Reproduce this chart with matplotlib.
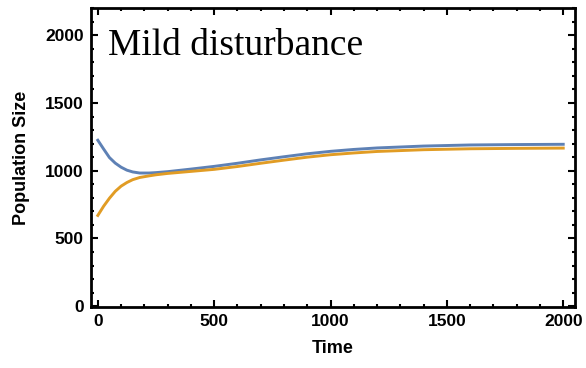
import matplotlib.pyplot as plt
from matplotlib.ticker import MultipleLocator

# values
time = [0, 25, 50, 75, 100, 125, 150, 180, 220, 250, 300, 400, 500, 600, 700,
        800, 900, 1000, 1100, 1200, 1400, 1600, 1800, 2000]
blue = [1225, 1160, 1097, 1056, 1026, 1004, 991, 983, 983, 986, 993, 1012, 1032,
        1055, 1080, 1103, 1125, 1143, 1157, 1168, 1182, 1190, 1193, 1195]
orange = [670, 738, 797, 848, 886, 913, 934, 950, 962, 970, 980, 995, 1010,
          1031, 1055, 1078, 1100, 1118, 1131, 1142, 1155, 1162, 1165, 1167]

plt.rcParams['font.family'] = ['Liberation Sans', 'DejaVu Sans']

fig = plt.figure(figsize=(5.86, 3.68), dpi=100)
ax = fig.add_axes([0.155, 0.166, 0.826, 0.812])

ax.plot(time, blue, color='#5E81B5', lw=2.1)
ax.plot(time, orange, color='#E19C24', lw=2.1)

ax.set_xlim(-30, 2050)
ax.set_ylim(-5, 2200)

ax.xaxis.set_major_locator(MultipleLocator(500))
ax.xaxis.set_minor_locator(MultipleLocator(100))
ax.yaxis.set_major_locator(MultipleLocator(500))
ax.yaxis.set_minor_locator(MultipleLocator(100))

ax.tick_params(which='both', direction='in', top=True, right=True, width=1.5,
               labelsize=12.5, pad=5)
ax.tick_params(which='major', length=5)
ax.tick_params(which='minor', length=2.5)
for lab in ax.get_xticklabels() + ax.get_yticklabels():
    lab.set_fontweight('bold')

for s in ax.spines.values():
    s.set_linewidth(2)

ax.set_xlabel('Time', fontsize=13, fontweight='bold', labelpad=8)
ax.set_ylabel('Population Size', fontsize=13, fontweight='bold', labelpad=11)

ax.text(0.035, 0.843, 'Mild disturbance', transform=ax.transAxes,
        fontsize=27, family='Liberation Serif', va='baseline', ha='left')

fig.savefig('out.png', dpi=100)
